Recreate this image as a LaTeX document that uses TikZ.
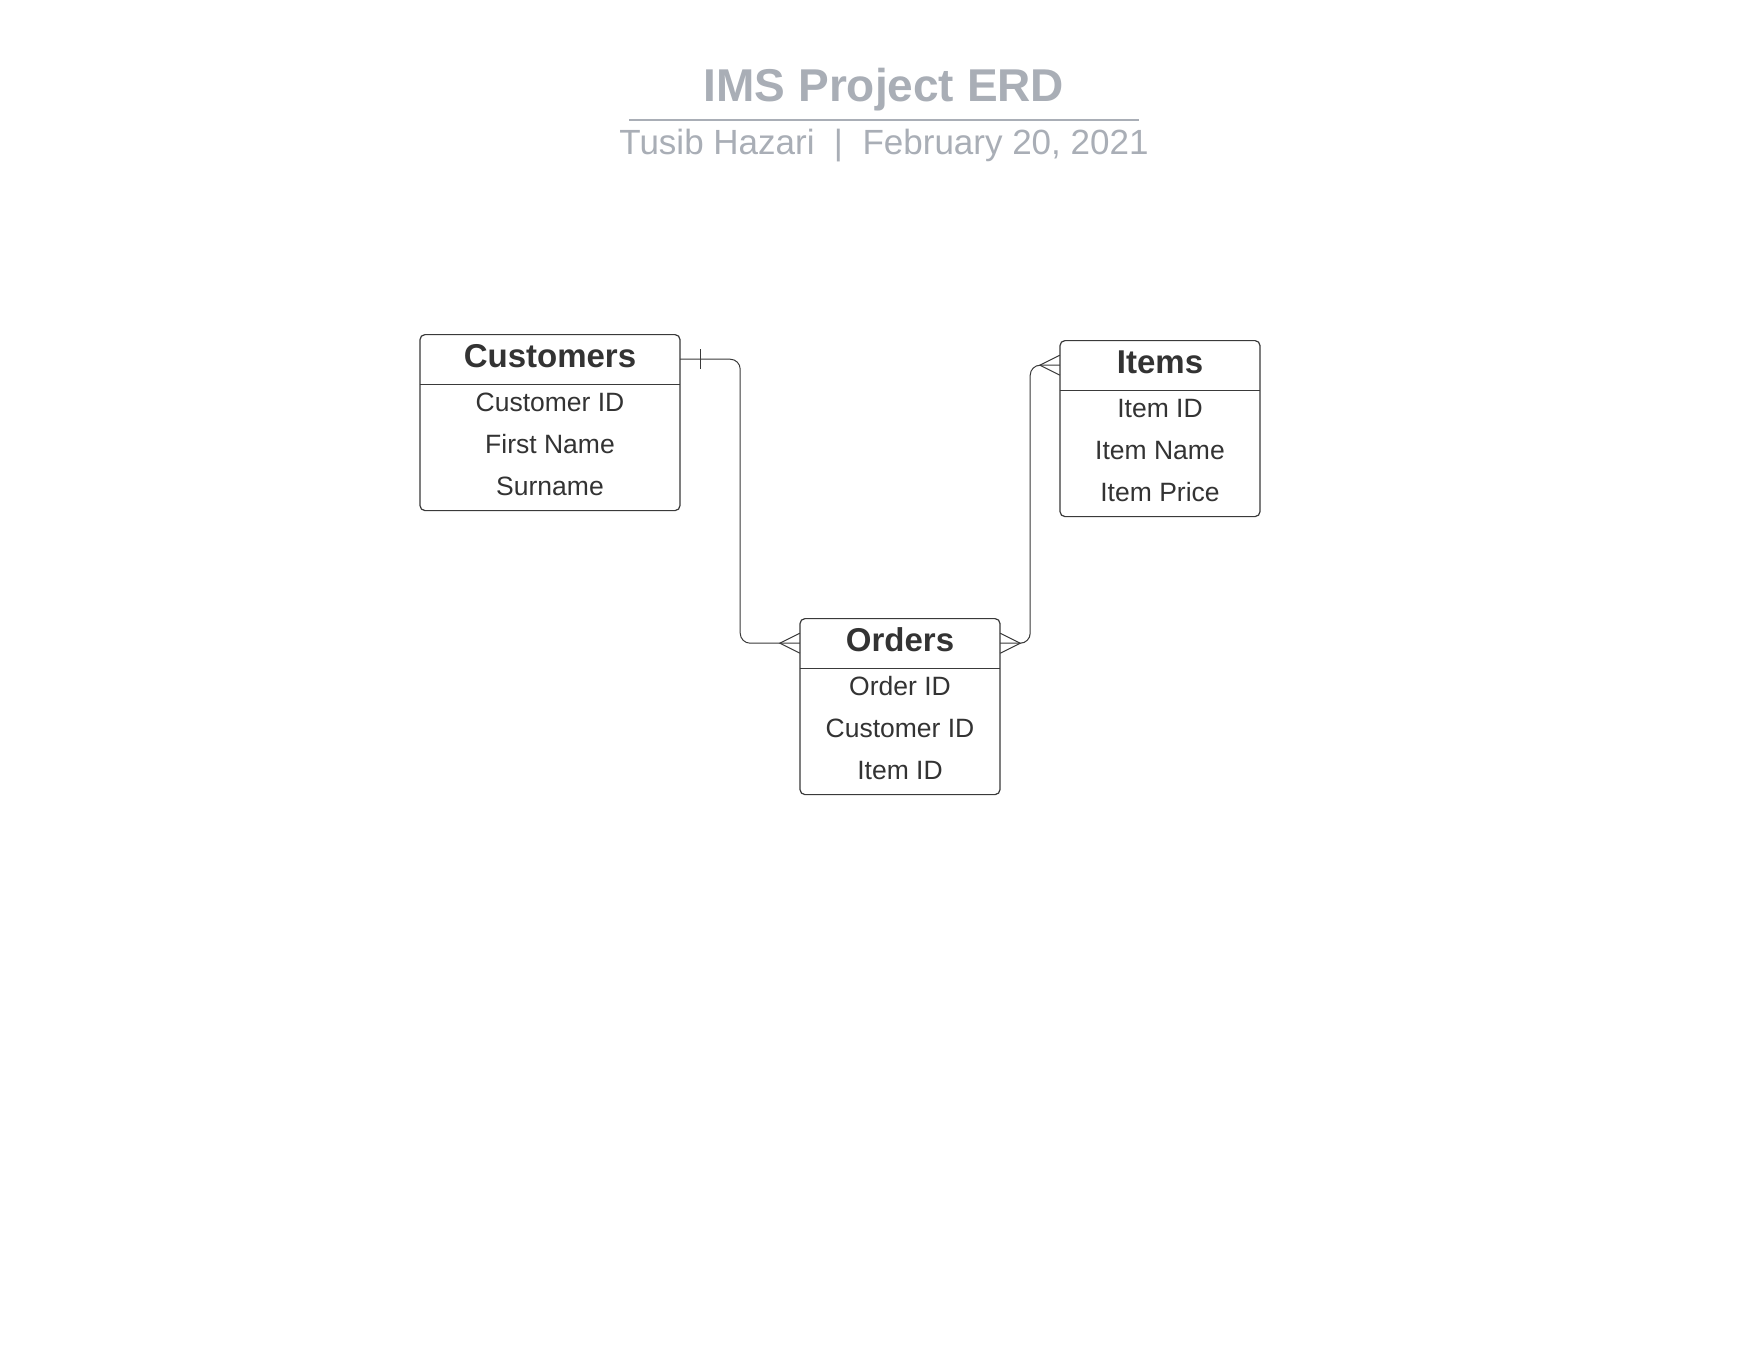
\documentclass[tikz,border=0pt]{standalone}
\usepackage{fontspec}
\setmainfont{Liberation Sans}
\usetikzlibrary{positioning}
\definecolor{ink}{HTML}{333333}
\definecolor{edge}{HTML}{3A3A3A}
\definecolor{muted}{HTML}{A9AEB6}

\begin{document}
\begin{tikzpicture}[x=1pt,y=-1pt,
    entity/.style={draw=edge, line width=1.2pt, rounded corners=5pt, minimum height=176pt, inner sep=0pt, anchor=north},
    head/.style={minimum height=50pt, inner sep=0pt, text=ink, font=\fontsize{33}{40}\selectfont\bfseries, text height=24pt, text depth=8pt},
    field/.style={anchor=base, inner sep=0pt, text=ink, font=\fontsize{26.5}{32}\selectfont},
    link/.style={draw=edge, line width=1pt, rounded corners=10pt},
    foot/.style={draw=edge, line width=1pt}]
    \path[fill=white] (0,0) rectangle (1760,1360);
    \useasboundingbox (0,0) rectangle (1760,1360);

    % heading
    \node[font=\fontsize{46}{55}\selectfont\bfseries, text=muted, anchor=base, inner sep=0pt] (title) at (884,101) {IMS Project ERD};
    \draw[muted, line width=2pt] (629,119.5) -- (1139,119.5);
    \node[font=\fontsize{35}{42}\selectfont, text=muted, anchor=base, inner sep=0pt] (byline) at (884,154.5) {Tusib Hazari\ \ |\ \ February 20, 2021};

    % entities
    \foreach \n/\x/\y/\w/\t in {customers/550/334/260/Customers, items/1160/340/200/Items, orders/900/618/200/Orders} {
        \node[entity, minimum width=\w pt] (\n) at (\x,\y) {};
        \node[head, minimum width=\w pt, below=0pt of \n.north] (\n-head) {\t};
        \draw[draw=edge, line width=1pt] (\n-head.south west) -- (\n-head.south east);
    }
    \foreach \n/\fields in {customers/{Customer ID,First Name,Surname}, items/{Item ID,Item Name,Item Price}, orders/{Order ID,Customer ID,Item ID}}
        \foreach \f [count=\i] in \fields
            \node[field] (\n-\i) at ([yshift={-35-42*\i}]\n.north) {\f};

    % relationships
    \draw[link] (customers-head.east) -- ++(60,0) |- (orders-head.west);
    \draw[link] (orders-head.east) -- ++(30,0) |- (items-head.west);
    \draw[foot] ([xshift=20pt,yshift=10pt]customers-head.east) -- ([xshift=20pt,yshift=-10pt]customers-head.east);
    \draw[foot] ([yshift=10pt]orders-head.west) -- ([xshift=-20pt]orders-head.west) -- ([yshift=-10pt]orders-head.west);
    \draw[foot] ([yshift=10pt]orders-head.east) -- ([xshift=20pt]orders-head.east) -- ([yshift=-10pt]orders-head.east);
    \draw[foot] ([yshift=10pt]items-head.west) -- ([xshift=-20pt]items-head.west) -- ([yshift=-10pt]items-head.west);
\end{tikzpicture}
\end{document}
